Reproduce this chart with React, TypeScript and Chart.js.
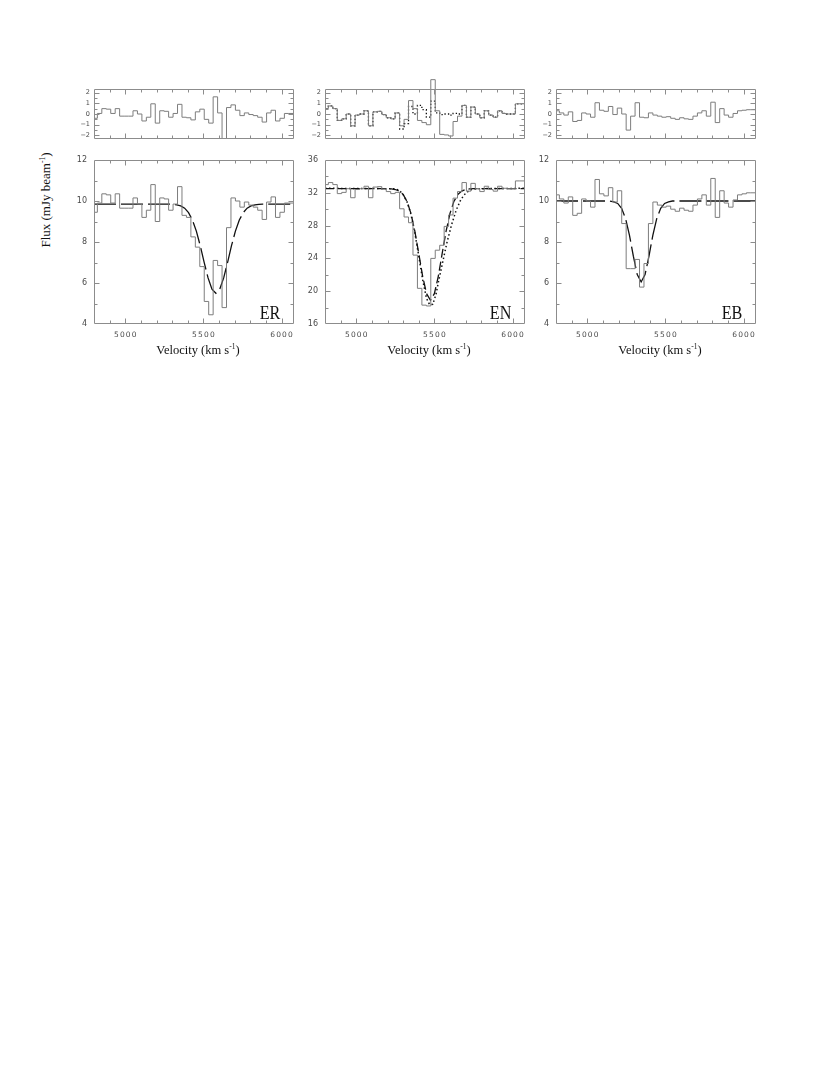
import React, { useEffect, useRef } from "react";
import { Chart, registerables } from "chart.js";

Chart.register(...registerables);

// ---------------- data ----------------
// channel edges (km/s), shared by the three spectra
const binEdges = [
  4793, 4821.5, 4850, 4878.5, 4907, 4935.5, 4964, 4992.5, 5021, 5049.5,
  5078, 5106.5, 5135, 5163.5, 5192, 5220.5, 5249, 5277.5, 5306, 5334.5,
  5363, 5391.5, 5420, 5448.5, 5477, 5505.5, 5534, 5562.5, 5591, 5619.5,
  5648, 5676.5, 5705, 5733.5, 5762, 5790.5, 5819, 5847.5, 5876, 5904.5,
  5933, 5961.5, 5990, 6018.5, 6047, 6075.5,
];

// ER
const erFlux = [
  10.7, 9.45, 9.9, 10.35, 10.3, 9.9, 10.35, 9.65, 9.65, 9.65,
  10.15, 9.85, 9.2, 9.55, 10.8, 9.0, 10.15, 10.1, 9.55, 9.85,
  10.7, 9.3, 9.2, 8.25, 7.75, 6.8, 5.1, 4.45, 7.1, 6.85,
  4.8, 8.7, 10.15, 10.0, 9.7, 9.95, 9.8, 9.7, 9.55, 9.1,
  9.95, 10.2, 9.2, 9.45, 9.9,
];
const erResid = [
  0.85, -0.4, 0.05, 0.5, 0.45, 0.05, 0.5, -0.2, -0.2, -0.2,
  0.3, 0.0, -0.65, -0.3, 0.95, -0.85, 0.3, 0.25, -0.3, 0.05,
  0.9, -0.3, -0.35, -0.55, 0.2, 0.45, -0.5, -0.85, 1.6, 0.1,
  -2.3, 0.6, 0.85, 0.35, -0.15, 0.1, -0.05, -0.15, -0.3, -0.75,
  0.1, 0.35, -0.65, -0.4, 0.05,
];
const erFitVel = [4800, 5280, 5305, 5330, 5355, 5380, 5405, 5430, 5455, 5480, 5505, 5530, 5555, 5580, 5605, 5630, 5655, 5680, 5705, 5730, 5755, 5780, 5805, 5830, 5855, 5880, 6080];
const erFitFlux = [9.85, 9.85, 9.84, 9.81, 9.76, 9.65, 9.43, 9.07, 8.53, 7.82, 7.01, 6.25, 5.7, 5.5, 5.7, 6.25, 7.01, 7.82, 8.53, 9.07, 9.43, 9.65, 9.76, 9.81, 9.84, 9.85, 9.85];

// EN
const enFlux = [
  33.1, 33.0, 33.25, 33.0, 31.9, 32.05, 32.5, 31.4, 32.4, 32.5,
  32.8, 31.4, 32.7, 32.75, 32.45, 32.15, 31.9, 32.05, 30.05, 29.05,
  28.35, 24.4, 20.35, 18.3, 18.2, 24.0, 25.0, 25.6, 27.9, 29.3,
  31.35, 32.15, 33.25, 32.2, 33.15, 32.5, 32.15, 32.8, 32.4, 32.2,
  32.8, 32.55, 32.5, 32.5, 33.45,
];
const enResid = [
  0.6, 0.5, 0.75, 0.5, -0.6, -0.45, 0.0, -1.1, -0.1, 0.0,
  0.3, -1.1, 0.2, 0.25, -0.05, -0.35, -0.45, 0.1, -1.1, -0.5,
  1.25, 0.5, -0.6, -0.8, -1.0, 3.2, 0.3, -1.9, -1.95, -2.05,
  -0.7, -0.2, 0.8, -0.3, 0.65, 0.0, -0.35, 0.3, -0.1, -0.3,
  0.3, 0.05, 0.0, 0.0, 0.95,
];
const enResidAlt = [
  0.6, 0.5, 0.75, 0.5, -0.6, -0.45, 0.0, -1.1, -0.1, 0.0,
  0.3, -1.1, 0.2, 0.25, -0.05, -0.35, -0.45, 0.1, -1.4, -0.9,
  0.7, 0.0, 0.8, 0.4, -0.3, 1.2, 0.1, -0.05, 0.0, -0.1,
  0.05, 0.0, 0.8, -0.3, 0.65, 0.0, -0.35, 0.3, -0.1, -0.3,
  0.3, 0.05, 0.0, 0.0, 0.95,
];
const enFitVel = [4800, 5200, 5225, 5250, 5275, 5300, 5325, 5350, 5375, 5400, 5425, 5450, 5475, 5500, 5525, 5550, 5575, 5600, 5625, 5650, 5675, 5700, 5725, 5750, 6080];
const enFitFlux = [32.5, 32.5, 32.47, 32.4, 32.21, 31.79, 30.95, 29.49, 27.32, 24.6, 21.81, 19.7, 18.9, 19.7, 21.81, 24.6, 27.32, 29.49, 30.95, 31.79, 32.21, 32.4, 32.47, 32.5, 32.5];
const enAltVel = [4800, 5250, 5275, 5300, 5325, 5350, 5375, 5400, 5425, 5450, 5470, 5490, 5510, 5530, 5555, 5580, 5610, 5640, 5670, 5700, 5730, 5770, 6080];
const enAltFlux = [32.55, 32.5, 32.3, 31.8, 30.9, 29.4, 27.1, 24.3, 21.4, 19.1, 18.35, 18.4, 19.6, 21.5, 23.7, 25.9, 28.1, 29.9, 31.2, 31.95, 32.35, 32.5, 32.55];

// EB
const ebFlux = [
  10.3, 10.3, 10.1, 9.9, 10.2, 9.3, 9.4, 10.1, 10.0, 9.7,
  11.05, 10.35, 10.25, 10.65, 9.95, 10.5, 8.9, 6.7, 6.7, 7.15,
  5.8, 6.95, 8.9, 9.95, 9.8, 9.7, 9.75, 9.6, 9.5, 9.65,
  9.55, 9.5, 9.8, 10.1, 10.3, 9.8, 11.1, 9.2, 10.5, 9.9,
  9.7, 10.05, 10.3, 10.35, 10.4,
];
const ebResid = [
  0.3, 0.3, 0.1, -0.1, 0.2, -0.7, -0.6, 0.1, 0.0, -0.3,
  1.05, 0.35, 0.25, 0.7, -0.05, 0.55, 0.0, -1.5, -0.2, 1.05,
  -0.3, -0.35, 0.1, -0.1, -0.2, -0.3, -0.25, -0.4, -0.5, -0.35,
  -0.45, -0.5, -0.2, 0.1, 0.3, -0.2, 1.1, -0.8, 0.5, -0.1,
  -0.3, 0.05, 0.3, 0.35, 0.4,
];
const ebFitVel = [4800, 5145, 5170, 5195, 5220, 5245, 5270, 5295, 5320, 5345, 5370, 5395, 5420, 5445, 5470, 5495, 5520, 5545, 6080];
const ebFitFlux = [10.0, 10.0, 9.96, 9.88, 9.64, 9.15, 8.34, 7.31, 6.41, 6.05, 6.41, 7.31, 8.34, 9.15, 9.64, 9.88, 9.96, 10.0, 10.0];

// ticks
const velTicks = [4900, 5000, 5100, 5200, 5300, 5400, 5500, 5600, 5700, 5800, 5900, 6000];
const velLabels = [5000, 5500, 6000];
const residTicks = [-2, -1.5, -1, -0.5, 0, 0.5, 1, 1.5, 2];
const residLabels = [-2, -1, 0, 1, 2];
const lowFluxTicks = [5, 6, 7, 8, 9, 10, 11];
const lowFluxLabels = [4, 6, 8, 10, 12];
const enFluxTicks = [18, 20, 22, 24, 26, 28, 30, 32, 34];
const enFluxLabels = [16, 20, 24, 28, 32, 36];

// ---------------- layout ----------------
const BOX_W = 200;
const RES_TOP = 89;
const RES_H = 50;
const MAIN_TOP = 160;
const MAIN_H = 164;
const PAD_L = 30;
const PAD_R = 10;

const HIST_COLOR = "#7d7d7d";
const FRAME_COLOR = "#8c8c8c";
const FIT_COLOR = "#111111";

const fmtNum = (t: number) => (t < 0 ? "\u2212" + String(-t) : String(t));

const axesPlugin = {
  id: "pgAxes",
  afterDatasetsDraw(chart: any, _args: any, o: any) {
    const { ctx, chartArea: a } = chart;
    const xs = chart.scales.x;
    const ys = chart.scales.y;
    ctx.save();
    ctx.strokeStyle = FRAME_COLOR;
    ctx.lineWidth = 1;
    const L = a.left + 0.5;
    const R = a.right - 0.5;
    const T = a.top + 0.5;
    const B = a.bottom - 0.5;
    ctx.beginPath();
    ctx.rect(L, T, R - L, B - T);
    for (const t of velTicks) {
      const p = Math.round(xs.getPixelForValue(t)) + 0.5;
      const len = velLabels.includes(t) ? 5 : 3;
      ctx.moveTo(p, B);
      ctx.lineTo(p, B - len);
      ctx.moveTo(p, T);
      ctx.lineTo(p, T + len);
    }
    for (const t of o.yTicks) {
      const p = Math.round(ys.getPixelForValue(t)) + 0.5;
      const len = o.yLabels.includes(t) ? 5 : 3;
      ctx.moveTo(L, p);
      ctx.lineTo(L + len, p);
      ctx.moveTo(R, p);
      ctx.lineTo(R - len, p);
    }
    ctx.stroke();

    ctx.fillStyle = "#4a4a4a";
    ctx.font = `${o.yFont}px "DejaVu Sans"`;
    ctx.textAlign = "right";
    ctx.textBaseline = "middle";
    for (const t of o.yLabels) {
      ctx.fillText(fmtNum(t), a.left - o.yGap, ys.getPixelForValue(t));
    }
    if (o.showX) {
      ctx.font = `7.5px "DejaVu Sans"`;
      (ctx as any).letterSpacing = "1.2px";
      ctx.textAlign = "center";
      for (const t of velLabels) {
        ctx.fillText(String(t), xs.getPixelForValue(t) + 0.6, a.bottom + 11.5);
      }
      (ctx as any).letterSpacing = "0px";
    }
    ctx.restore();
  },
};

const histData = (vals: number[]) => {
  const pts = vals.map((v, i) => ({ x: binEdges[i], y: v }));
  pts.push({ x: binEdges[vals.length], y: vals[vals.length - 1] });
  return pts;
};
const curveData = (vx: number[], vy: number[]) => vx.map((x, i) => ({ x, y: vy[i] }));

function makeConfig(datasets: any[], yMin: number, yMax: number, pad: any, axes: any) {
  return {
    type: "line",
    data: { datasets },
    options: {
      animation: false,
      responsive: false,
      devicePixelRatio: 1,
      layout: { padding: pad },
      scales: {
        x: { type: "linear", min: 4800, max: 6080, display: false },
        y: { type: "linear", min: yMin, max: yMax, display: false },
      },
      elements: { point: { radius: 0 }, line: { tension: 0 } },
      plugins: { legend: { display: false }, tooltip: { enabled: false }, pgAxes: axes },
    },
    plugins: [axesPlugin],
  } as any;
}

function ChartCanvas({ x, y, w, h, config }: { x: number; y: number; w: number; h: number; config: any }) {
  const ref = useRef<HTMLCanvasElement | null>(null);
  useEffect(() => {
    if (!ref.current) return;
    const c = new Chart(ref.current, config);
    return () => c.destroy();
  }, []);
  return (
    <canvas
      ref={ref}
      width={w}
      height={h}
      style={{ position: "absolute", left: x, top: y, width: w, height: h }}
    />
  );
}

type Panel = {
  name: string;
  left: number;
  flux: number[];
  resid: number[];
  residAlt?: number[];
  fits: { vx: number[]; vy: number[]; dash: number[]; width: number }[];
  yMin: number;
  yMax: number;
  yTicks: number[];
  yLabels: number[];
};

const panels: Panel[] = [
  {
    name: "ER",
    left: 94,
    flux: erFlux,
    resid: erResid,
    fits: [{ vx: erFitVel, vy: erFitFlux, dash: [22, 5], width: 1.3 }],
    yMin: 4,
    yMax: 12,
    yTicks: lowFluxTicks,
    yLabels: lowFluxLabels,
  },
  {
    name: "EN",
    left: 325,
    flux: enFlux,
    resid: enResid,
    residAlt: enResidAlt,
    fits: [
      { vx: enFitVel, vy: enFitFlux, dash: [9, 4], width: 1.3 },
      { vx: enAltVel, vy: enAltFlux, dash: [1.5, 2.5], width: 1.5 },
    ],
    yMin: 16,
    yMax: 36,
    yTicks: enFluxTicks,
    yLabels: enFluxLabels,
  },
  {
    name: "EB",
    left: 556,
    flux: ebFlux,
    resid: ebResid,
    fits: [{ vx: ebFitVel, vy: ebFitFlux, dash: [22, 5], width: 1.3 }],
    yMin: 4,
    yMax: 12,
    yTicks: lowFluxTicks,
    yLabels: lowFluxLabels,
  },
];

function PanelView({ p }: { p: Panel }) {
  const resPad = { left: PAD_L, right: PAD_R, top: 12, bottom: 6 };
  const mainPad = { left: PAD_L, right: PAD_R, top: 6, bottom: 24 };

  const resDatasets: any[] = [
    {
      data: histData(p.resid),
      stepped: "after",
      borderColor: HIST_COLOR,
      borderWidth: 1,
      pointRadius: 0,
      clip: { left: 0, top: 10, right: 0, bottom: 0 },
    },
  ];
  if (p.residAlt) {
    resDatasets.push({
      data: histData(p.residAlt),
      stepped: "after",
      borderColor: FIT_COLOR,
      borderWidth: 1.3,
      borderDash: [1.3, 2.2],
      pointRadius: 0,
    });
  }
  const mainDatasets: any[] = [
    {
      data: histData(p.flux),
      stepped: "after",
      borderColor: HIST_COLOR,
      borderWidth: 1,
      pointRadius: 0,
    },
    ...p.fits.map((f) => ({
      data: curveData(f.vx, f.vy),
      borderColor: FIT_COLOR,
      borderWidth: f.width,
      borderDash: f.dash,
      pointRadius: 0,
    })),
  ];

  const resConfig = makeConfig(resDatasets, -2.33, 2.33, resPad, {
    yTicks: residTicks,
    yLabels: residLabels,
    yFont: 6.5,
    yGap: 4,
    showX: false,
  });
  const mainConfig = makeConfig(mainDatasets, p.yMin, p.yMax, mainPad, {
    yTicks: p.yTicks,
    yLabels: p.yLabels,
    yFont: 8,
    yGap: 7,
    showX: true,
  });

  const cx = p.left + BOX_W / 2 + 4;
  return (
    <>
      <ChartCanvas x={p.left - PAD_L} y={RES_TOP - 12} w={BOX_W + PAD_L + PAD_R} h={RES_H + 18} config={resConfig} />
      <ChartCanvas x={p.left - PAD_L} y={MAIN_TOP - 6} w={BOX_W + PAD_L + PAD_R} h={MAIN_H + 30} config={mainConfig} />
      <div
        style={{
          position: "absolute",
          left: cx,
          top: 344,
          transform: "translateX(-50%)",
          font: '12.5px "Liberation Serif", serif',
          lineHeight: "13px",
          whiteSpace: "nowrap",
          color: "#111",
        }}
      >
        Velocity (km s<span style={{ fontSize: "7.5px", position: "relative", top: "-5px" }}>-1</span>)
      </div>
      <div
        style={{
          position: "absolute",
          right: 830 - (p.left + 186),
          top: 303,
          font: '19px "Liberation Serif", serif',
          lineHeight: "19px",
          whiteSpace: "nowrap",
          color: "#111",
          transform: "scaleX(0.85)",
          transformOrigin: "right center",
        }}
      >
        {p.name}
      </div>
    </>
  );
}

export default function App() {
  return (
    <div
      style={{
        position: "absolute",
        left: 0,
        top: 0,
        width: 830,
        height: 1075,
        background: "#ffffff",
        overflow: "hidden",
      }}
    >
      {panels.map((p) => (
        <PanelView key={p.name} p={p} />
      ))}
      <div
        style={{
          position: "absolute",
          left: 46,
          top: 200,
          transform: "translate(-50%, -50%) rotate(-90deg)",
          font: '13px "Liberation Serif", serif',
          whiteSpace: "nowrap",
          color: "#111",
        }}
      >
        Flux (mJy beam<span style={{ fontSize: "7.5px", position: "relative", top: "-5px" }}>-1</span>)
      </div>
    </div>
  );
}
